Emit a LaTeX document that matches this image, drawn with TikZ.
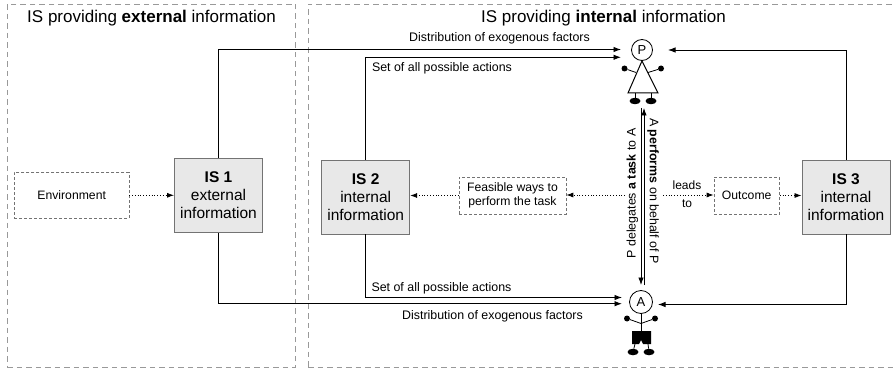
\documentclass[tikz,border=0pt]{standalone}
\usepackage{fontspec}
\setmainfont{Liberation Sans}
\usetikzlibrary{arrows.meta}
\usetikzlibrary{shapes.geometric}
\tikzset{
    panel/.style={draw=black!40,dash pattern=on 5.5pt off 4pt,line width=0.8pt,minimum width=#1,minimum height=363pt,inner sep=0pt},
    isbox/.style={draw=black!55,fill=black!9,line width=0.9pt,minimum width=88pt,minimum height=74pt,inner sep=0pt,align=center,font=\fontsize{15.5}{18}\selectfont},
    factor/.style={draw=black!55,dash pattern=on 3pt off 2pt,line width=0.6pt,inner sep=0pt,align=center,font=\fontsize{12.2}{14.5}\selectfont},
    heading/.style={font=\fontsize{17}{20}\selectfont},
    tag/.style={font=\fontsize{12.4}{14}\selectfont,align=center,inner sep=0pt},
    link/.style={line width=0.9pt,-{Latex[length=7.5pt,width=5.5pt]}},
    dotlink/.style={line width=0.8pt,dotted,-{Latex[length=7pt,width=5pt]}},
    head/.style={shape=circle,draw=black,line width=0.8pt,minimum size=#1,inner sep=0pt,font=\fontsize{13}{14}\selectfont},
    hand/.style={shape=circle,fill=black,minimum size=6pt,inner sep=0pt},
    foot/.style={shape=ellipse,fill=black,minimum width=11pt,minimum height=6.5pt,inner sep=0pt}
}
\begin{document}
\begin{tikzpicture}[x=1pt,y=-1pt]
    \useasboundingbox (0,0) rectangle (895,369);
    \node[panel=288.5pt] (extpanel) at (151.5,185.5) {};
    \node[panel=590pt] (intpanel) at (603,185.5) {};
    \node[heading] (exttitle) at (151.5,18) {IS providing \textbf{external} information};
    \node[heading] (inttitle) at (603.5,18) {IS providing \textbf{internal} information};

    \node[factor,minimum width=114.5pt,minimum height=46pt] (env) at (71.7,195.3) {Environment};
    \node[isbox] (is1) at (218.5,195.3) {\textbf{IS 1}\\external\\information};
    \node[isbox] (is2) at (365.7,197) {\textbf{IS 2}\\internal\\information};
    \node[isbox] (is3) at (846,197) {\textbf{IS 3}\\internal\\information};
    \node[factor,minimum width=107pt,minimum height=37pt] (ways) at (512.5,195.5) {Feasible ways to\\perform the task};
    \node[factor,minimum width=65.5pt,minimum height=37pt] (outcome) at (746.7,195.5) {Outcome};

    \node[head=21pt] (P) at (642,50) {P};
    \node[hand] (phandl) at (624.5,68.5) {};
    \node[hand] (phandr) at (661,68.5) {};
    \node[foot] (pfootl) at (635,101) {};
    \node[foot] (pfootr) at (651,101) {};
    \draw[line width=1pt] (P.south) -- (628,93) -- (658,93) -- cycle;
    \draw[line width=0.8pt] (phandl) -- (636,72.5);
    \draw[line width=0.8pt] (phandr) -- (648,72.5);
    \draw[line width=0.8pt] (pfootl) -- (635,93);
    \draw[line width=0.8pt] (pfootr) -- (651,93);

    \node[head=23pt] (A) at (641,302) {A};
    \node[hand] (ahandl) at (627,318.5) {};
    \node[hand] (ahandr) at (655,318.5) {};
    \node[foot] (afootl) at (633,352) {};
    \node[foot] (afootr) at (649,352) {};
    \coordinate (aneck) at (641,323.5);
    \draw[line width=0.8pt] (A.south) -- (641,331);
    \draw[line width=0.8pt] (ahandl) -- (aneck) -- (ahandr);
    \fill (632,331) -- (651,331) -- (651,344) -- (643,344) -- (641,340) -- (639,344) -- (632,344) -- cycle;
    \draw[line width=0.8pt] (afootl) -- (635,344);
    \draw[line width=0.8pt] (afootr) -- (648,344);

    \coordinate (pin1) at (621,49.5);
    \coordinate (pin2) at (621,57.3);
    \coordinate (pin3) at (668,50);
    \coordinate (ain1) at (622,303.7);
    \coordinate (ain2) at (622,297.5);
    \coordinate (ain3) at (658,304.5);
    \draw[link] (is1.north) |- (pin1);
    \draw[link] (is2.north) |- (pin2);
    \draw[link] (is3.north) |- (pin3);
    \draw[link] (is1.south) |- (ain1);
    \draw[link] (is2.south) |- (ain2);
    \draw[link] (is3.south) |- (ain3);

    \coordinate (ptop) at (644,108);
    \coordinate (pbot) at (644,285);
    \coordinate (atop) at (641,108);
    \coordinate (abot) at (641,285);
    \draw[link] (atop) -- (abot);
    \draw[link] (pbot) -- (ptop);

    \coordinate (split) at (625,195);
    \coordinate (lead) at (663,195);
    \draw[dotlink] (env) -- (is1);
    \draw[dotlink] (ways.west) -- (ways.west -| is2.east);
    \draw[dotlink] (split) -- (split -| ways.east);
    \draw[dotlink] (lead) -- (lead -| outcome.west);
    \draw[dotlink] (outcome.east) -- (outcome.east -| is3.west);

    \node[tag] (topdist) at (499.5,38.7) {Distribution of exogenous factors};
    \node[tag] (topset) at (442,68) {Set of all possible actions};
    \node[tag] (botset) at (441.5,288.7) {Set of all possible actions};
    \node[tag] (botdist) at (492.5,316) {Distribution of exogenous factors};
    \node[tag,rotate=90] (delegate) at (632.5,193.5) {P delegates \textbf{a task} to A};
    \node[tag,rotate=-90] (perform) at (653,191) {A \textbf{performs} on behalf of P};
    \node[tag,font=\fontsize{12}{18}\selectfont] (leads) at (687,194.5) {leads\\to};
\end{tikzpicture}
\end{document}
